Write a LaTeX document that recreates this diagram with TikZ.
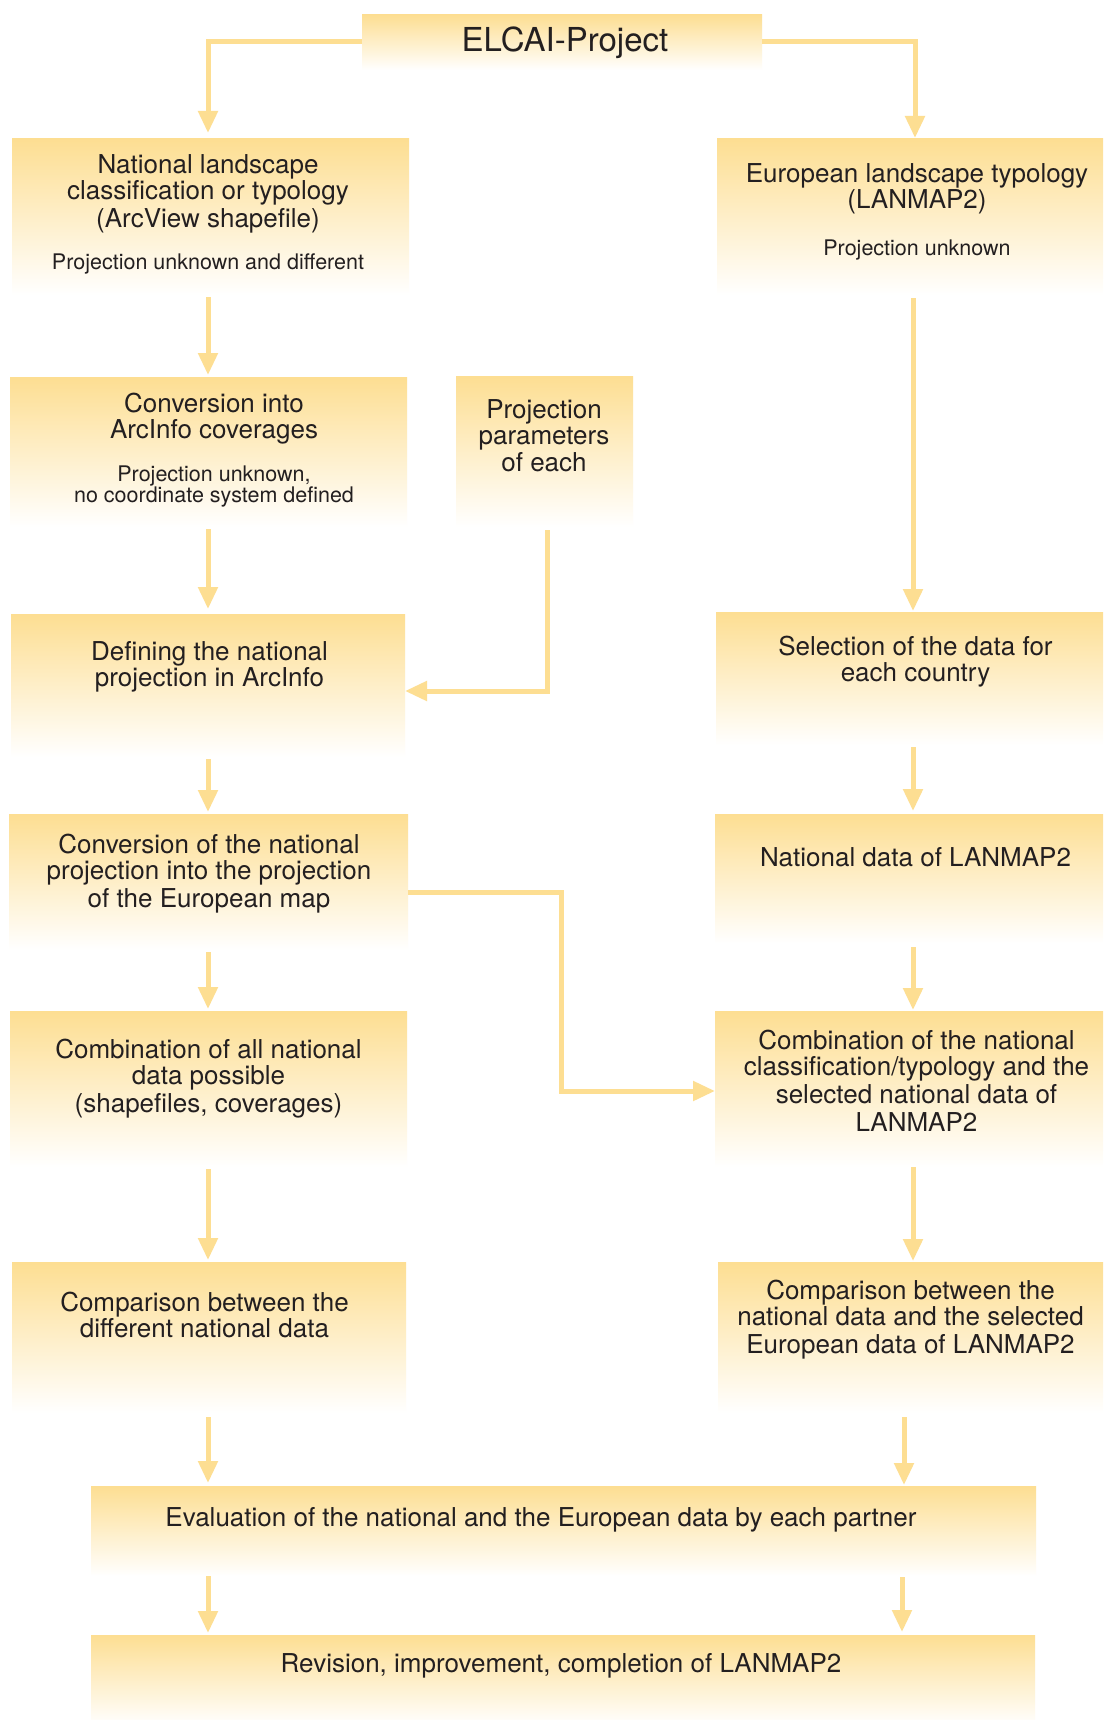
\documentclass[tikz,border=0pt]{standalone}
\usepackage{fontspec}
\setmainfont{TeX Gyre Heros}
\usetikzlibrary{arrows.meta}
\definecolor{ylw}{RGB}{253,222,146}
\definecolor{ink}{RGB}{35,31,32}
\newcommand\mainf{\fontsize{26}{26}\selectfont}
\newcommand\subf{\fontsize{21.5}{21}\selectfont}
\newcommand\titf{\fontsize{33}{33}\selectfont}
\newcommand\Lb{\\\strut}
\newcommand\bx[5]{\node[box, minimum width={#4-#2}, minimum height={#5-#3}] (#1) at ({(#2+#4)/2},{(#3+#5)/2}) {};}
\begin{document}
\begin{tikzpicture}[x=1pt,y=-1pt,
  box/.style={rectangle, inner sep=0pt, outer sep=0pt, top color=ylw, bottom color=white, draw=none},
  txt/.style={inner sep=0pt, align=center, text=ink, font=\mainf, execute at begin node=\strut},
  sub/.style={txt, font=\subf},
  arr/.style={draw=ylw, line width=5pt, -{Triangle[length=22pt,width=19pt]}, shorten <=2pt, shorten >=2pt}
]
\useasboundingbox (0,0) rectangle (1103,1720);
\fill[white] (0,0) rectangle (1103,1720);

% boxes
\bx{T}{362}{15}{762}{70}
\bx{L1}{12}{139}{409}{295}
\bx{R1}{717}{139}{1103}{295}
\bx{L2}{10}{377}{407}{527}
\bx{P}{456}{376}{633}{527}
\bx{L3}{11}{614}{405}{757}
\bx{R2}{716}{612}{1103}{745}
\bx{L4}{9}{814}{408}{950}
\bx{R3}{715}{814}{1103}{943}
\bx{L5}{10}{1011}{407}{1167}
\bx{R4}{715}{1011}{1103}{1167}
\bx{L6}{12}{1262}{406}{1413}
\bx{R5}{718}{1262}{1103}{1413}
\bx{E}{91}{1486}{1036}{1576}
\bx{V}{91}{1635}{1035}{1725}

% texts
\node[txt, font=\titf] (Tt) at (565,44) {ELCAI-Project};
\node[txt] (L1t) at (208,195) {National landscape\Lb classification or typology\Lb (ArcView shapefile)};
\node[sub] (L1s) at (208,265) {Projection unknown and different};
\node[txt] (R1t) at (917,189.5) {European landscape typology\Lb (LANMAP2)};
\node[sub] (R1s) at (917,251) {Projection unknown};
\node[txt] (L2t) at (214,420) {Conversion into\Lb ArcInfo coverages};
\node[sub] (L2s) at (214,487.5) {Projection unknown,\Lb no coordinate system defined};
\node[txt] (Pt) at (544,439.5) {Projection\Lb parameters\Lb of each};
\node[txt] (L3t) at (209.5,668) {Defining the national\Lb projection in ArcInfo};
\node[txt] (R2t) at (915.5,662.5) {Selection of the data for\Lb each country};
\node[txt] (L4t) at (209,875) {Conversion of the national\Lb projection into the projection\Lb of the European map};
\node[txt] (R3t) at (915.5,860.5) {National data of LANMAP2};
\node[txt] (L5t) at (208.5,1079.5) {Combination of all national\Lb data possible\Lb (shapefiles, coverages)};
\node[txt] (R4t) at (916.5,1084.5) {Combination of the national\Lb classification/typology and the\Lb selected national data of\Lb LANMAP2};
\node[txt] (L6t) at (204.5,1318.5) {Comparison between the\Lb different national data};
\node[txt] (R5t) at (910.5,1321) {Comparison between the\Lb national data and the selected\Lb European data of LANMAP2};
\node[txt] (Et) at (541,1520.5) {Evaluation of the national and the European data by each partner};
\node[txt] (Vt) at (561,1666.5) {Revision, improvement, completion of LANMAP2};

% column coordinates
\coordinate (cL) at (208,0);
\coordinate (cR) at (913,0);
\coordinate (cRt) at (915,0);
\coordinate (cR2) at (904,0);
\coordinate (cR3) at (902,0);
\coordinate (cP) at (547,0);
\coordinate (cM) at (561,0);

% connectors
\draw[arr, shorten <=0pt, shorten >=6pt] ([yshift=1pt]T.west) -| (L1.north -| cL);
\draw[arr, shorten <=0pt, shorten >=1pt] ([yshift=1pt]T.east) -| (R1.north -| cRt);
\draw[arr] (L1.south -| cL) -- (L2.north -| cL);
\draw[arr, shorten >=5pt] (L2.south -| cL) -- (L3.north -| cL);
\draw[arr, shorten <=3pt, shorten >=0pt] (P.south -| cP) |- ([yshift=-5.5pt]L3.east);
\draw[arr] (L3.south -| cL) -- (L4.north -| cL);
\draw[arr] (L4.south -| cL) -- (L5.north -| cL);
\draw[arr] (L5.south -| cL) -- (L6.north -| cL);
\draw[arr, shorten <=4pt, shorten >=3pt] (L6.south -| cL) -- (E.north -| cL);
\draw[arr, shorten <=0pt] (E.south -| cL) -- (V.north -| cL);
\draw[arr, shorten <=3pt, shorten >=1pt] (R1.south -| cR) -- (R2.north -| cR);
\draw[arr, shorten >=3pt] (R2.south -| cR) -- (R3.north -| cR);
\draw[arr, shorten <=4pt, shorten >=1pt] (R3.south -| cR) -- (R4.north -| cR);
\draw[arr, shorten <=0pt, shorten >=1pt] (R4.south -| cR) -- (R5.north -| cR);
\draw[arr, shorten <=4pt, shorten >=1pt] (R5.south -| cR2) -- (E.north -| cR2);
\draw[arr, shorten <=1pt, shorten >=3pt] (E.south -| cR3) -- (V.north -| cR3);
\draw[arr, shorten <=0pt, shorten >=0pt] ([yshift=-10pt]L4.east) -| ([yshift=-2pt]R4.west -| cM) -- ([yshift=-2pt]R4.west);
\end{tikzpicture}
\end{document}
